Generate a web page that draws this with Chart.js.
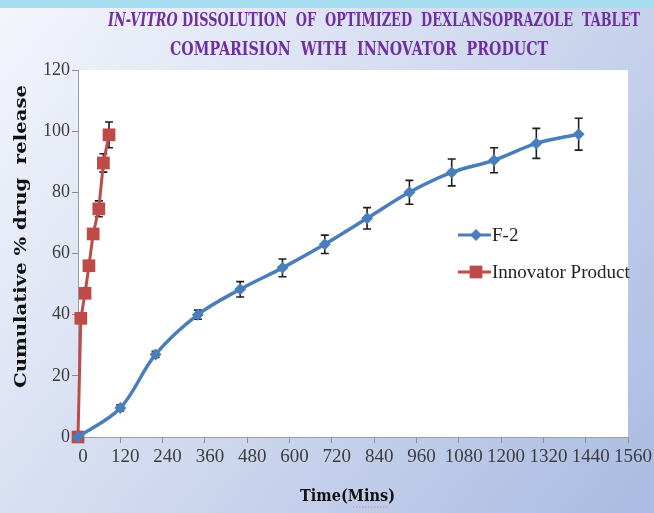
<!DOCTYPE html>
<html>
<head>
<meta charset="utf-8">
<script src="https://cdn.jsdelivr.net/npm/chart.js@4.4.0/dist/chart.umd.min.js"></script>
<style>
    html, body { margin: 0; padding: 0; background: #c8d4ee; }
    #wrap { width: 654px; height: 513px; }
</style>
</head>
<body>
<div id="wrap"><canvas id="dissolutionChart" width="654" height="513"></canvas></div>
<script>
// values
const f2Times = [0, 120, 220, 340, 460, 580, 700, 820, 940, 1060, 1180, 1300, 1420];
const f2Release = [0, 9.5, 27, 40, 48.3, 55.3, 63, 71.5, 80, 86.5, 90.5, 96, 99];
const f2Error = [0, 1, 1, 1.5, 2.5, 2.9, 3, 3.5, 3.9, 4.4, 4.1, 4.9, 5.2];

const innovatorTimes = [0, 8, 20, 31, 43, 59, 72, 88];
const innovatorRelease = [0, 38.8, 47, 56, 66.4, 74.6, 89.6, 98.8];
const innovatorError = [0, 0.8, 1, 1, 1.5, 2.6, 3, 4.2];

const xTicks = [0, 120, 240, 360, 480, 600, 720, 840, 960, 1080, 1200, 1320, 1440, 1560];
const yTicks = [0, 20, 40, 60, 80, 100, 120];

const toPoints = (xs, ys) => xs.map((x, i) => ({ x: x, y: ys[i] }));

// draw a run of text pieces squeezed/stretched to a given width
function drawFitted(ctx, parts, x0, x1, y) {
    let total = 0;
    parts.forEach(p => { ctx.font = p.font; total += ctx.measureText(p.text).width; });
    const sx = (x1 - x0) / total;
    ctx.save();
    ctx.translate(x0, y);
    ctx.scale(sx, 1);
    ctx.textBaseline = 'middle';
    ctx.textAlign = 'left';
    let cx = 0;
    parts.forEach(p => {
        ctx.font = p.font;
        ctx.fillText(p.text, cx, 0);
        cx += ctx.measureText(p.text).width;
    });
    ctx.restore();
}

const backdrop = {
    id: 'backdrop',
    beforeDraw(chart) {
        const { ctx, chartArea: a } = chart;
        ctx.save();
        const g = ctx.createLinearGradient(0, 0, 654, 513);
        g.addColorStop(0, '#f4f6fc');
        g.addColorStop(0.45, '#d4dcf1');
        g.addColorStop(1, '#a9bbe1');
        ctx.fillStyle = g;
        ctx.fillRect(0, 0, 654, 513);
        ctx.fillStyle = '#a6dcf0';
        ctx.fillRect(0, 0, 654, 8);
        ctx.fillStyle = '#ffffff';
        ctx.fillRect(a.left, a.top, a.right - a.left, a.bottom - a.top);
        ctx.restore();
    }
};

// bars go under the markers, so short ones hide behind the squares
const errorBars = {
    id: 'errorBars',
    beforeDatasetsDraw(chart) {
        const { ctx, scales } = chart;
        const sets = [[f2Times, f2Release, f2Error], [innovatorTimes, innovatorRelease, innovatorError]];
        ctx.save();
        ctx.strokeStyle = '#1e1e1e';
        ctx.lineWidth = 1.6;
        sets.forEach(([xs, ys, es]) => {
            xs.forEach((t, i) => {
                if (!es[i]) return;
                const px = scales.x.getPixelForValue(t);
                const top = scales.y.getPixelForValue(ys[i] + es[i]);
                const bot = scales.y.getPixelForValue(ys[i] - es[i]);
                ctx.beginPath();
                ctx.moveTo(px, top); ctx.lineTo(px, bot);
                ctx.moveTo(px - 4, top); ctx.lineTo(px + 4, top);
                ctx.moveTo(px - 4, bot); ctx.lineTo(px + 4, bot);
                ctx.stroke();
            });
        });
        ctx.restore();
    }
};

const decorations = {
    id: 'decorations',
    afterDraw(chart) {
        const ctx = chart.ctx;
        ctx.save();
        // title
        ctx.fillStyle = '#6f2f9f';
        drawFitted(ctx, [
            { text: 'IN-VITRO', font: 'italic bold 18px "DejaVu Serif"' },
            { text: ' DISSOLUTION  OF  OPTIMIZED  DEXLANSOPRAZOLE  TABLET', font: 'bold 18px "DejaVu Serif"' }
        ], 108, 640, 21);
        drawFitted(ctx, [
            { text: 'COMPARISION  WITH  INNOVATOR  PRODUCT', font: 'bold 18px "DejaVu Serif"' }
        ], 170, 548, 50);

        // axis titles
        ctx.fillStyle = '#111111';
        drawFitted(ctx, [{ text: 'Time(Mins)', font: 'bold 17px "DejaVu Serif"' }], 300, 395, 497);
        ctx.save();
        ctx.translate(22, 388);
        ctx.rotate(-Math.PI / 2);
        drawFitted(ctx, [{ text: 'Cumulative % drug  release', font: 'bold 17px "DejaVu Serif"' }], 0, 303, 0);
        ctx.restore();
        // spell-check squiggle under "Mins"
        ctx.strokeStyle = '#e07aa8';
        ctx.lineWidth = 1;
        ctx.setLineDash([1.5, 1.5]);
        ctx.beginPath();
        ctx.moveTo(353, 507); ctx.lineTo(389, 507);
        ctx.stroke();
        ctx.setLineDash([]);

        // legend
        const rows = [[0, 235, 'F-2'], [1, 272, 'Innovator Product']];
        rows.forEach(([di, y, label]) => {
            const ds = chart.data.datasets[di];
            ctx.strokeStyle = ds.borderColor;
            ctx.lineWidth = 3;
            ctx.beginPath();
            ctx.moveTo(458, y); ctx.lineTo(491, y);
            ctx.stroke();
            ctx.fillStyle = ds.backgroundColor;
            Chart.helpers.drawPoint(ctx, {
                pointStyle: ds.pointStyle, radius: ds.pointRadius, borderWidth: 0
            }, 476, y);
            ctx.fillStyle = '#222222';
            ctx.font = '19px "Liberation Serif"';
            ctx.textBaseline = 'middle';
            ctx.textAlign = 'left';
            ctx.fillText(label, 492, y + 1);
        });
        ctx.restore();
    }
};

new Chart(document.getElementById('dissolutionChart'), {
    type: 'scatter',
    data: {
        datasets: [{
            label: 'F-2',
            data: toPoints(f2Times, f2Release),
            showLine: true,
            tension: 0.35,
            borderColor: '#4a7ebb',
            backgroundColor: '#4a7ebb',
            borderWidth: 3.5,
            pointStyle: 'rectRot',
            pointRadius: 6,
            pointBorderWidth: 0
        }, {
            label: 'Innovator Product',
            data: toPoints(innovatorTimes, innovatorRelease),
            showLine: true,
            tension: 0,
            borderColor: '#be4b48',
            backgroundColor: '#be4b48',
            borderWidth: 3,
            pointStyle: 'rect',
            pointRadius: 9,
            pointBorderWidth: 0
        }]
    },
    options: {
        responsive: false,
        animation: false,
        clip: false,
        layout: { padding: { left: 0, top: 70, right: 26, bottom: 0 } },
        plugins: {
            legend: { display: false },
            title: { display: false },
            tooltip: { enabled: false }
        },
        scales: {
            x: {
                type: 'linear',
                min: 0,
                max: 1560,
                afterBuildTicks: s => { s.ticks = xTicks.map(v => ({ value: v })); },
                afterFit: s => { s.height = 76; },
                ticks: {
                    autoSkip: false,
                    maxRotation: 0,
                    labelOffset: 5,
                    padding: 3,
                    color: '#3c3c3c',
                    font: { family: 'Liberation Serif', size: 19 },
                    callback: v => String(v)
                },
                grid: { drawOnChartArea: false, tickLength: 6, color: '#8c8c8c' },
                border: { color: '#9aa0a8' }
            },
            y: {
                min: 0,
                max: 120,
                afterBuildTicks: s => { s.ticks = yTicks.map(v => ({ value: v })); },
                afterFit: s => { s.width = 78; },
                ticks: {
                    padding: 2,
                    color: '#3c3c3c',
                    font: { family: 'Liberation Serif', size: 18 },
                    callback: v => String(v)
                },
                grid: { drawOnChartArea: false, tickLength: 6, color: '#8c8c8c' },
                border: { color: '#9aa0a8' }
            }
        }
    },
    plugins: [backdrop, errorBars, decorations]
});
</script>
</body>
</html>
